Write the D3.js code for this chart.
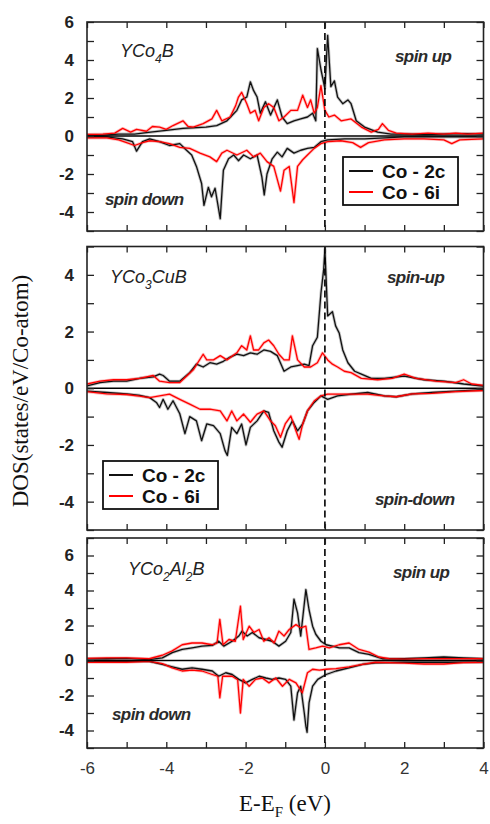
<!DOCTYPE html>
<html><head><meta charset="utf-8">
<script src="https://cdn.jsdelivr.net/npm/d3@7"></script>
<style>body{margin:0;background:#fff} svg{display:block}</style>
</head><body><svg id="c" width="490" height="824"></svg>
<script>
// ---------- DATA (E - E_F in eV, DOS in states/eV/Co-atom) ----------
const xTickValues = [-6,-5,-4,-3,-2,-1,0,1,2,3,4];
const xTickLabels = [-6,-4,-2,0,2,4];
const seriesNames = ["Co - 2c", "Co - 6i"];

// Panel 1: YCo4B
const p1_2c_up = [[-6,0.05],[-5.6,0.05],[-5.2,0.1],[-4.8,0.1],[-4.4,0.2],[-4,0.3],[-3.58,0.4],[-3,0.47],[-2.73,0.55],[-2.47,0.8],[-2.22,1.35],[-2.1,1.9],[-1.97,2.05],[-1.88,2.85],[-1.8,2.4],[-1.71,2.05],[-1.63,1.2],[-1.5,1.8],[-1.37,1.1],[-1.2,1.9],[-1.08,1.0],[-0.95,0.65],[-0.78,0.8],[-0.61,0.9],[-0.44,1.0],[-0.31,1.2],[-0.23,0.8],[-0.19,4.6],[-0.1,3.5],[0.0,2.5],[0.07,5.3],[0.15,2.6],[0.24,2.9],[0.32,2.05],[0.45,1.7],[0.58,1.9],[0.66,1.7],[0.79,0.8],[1.0,0.47],[1.33,0.2],[1.67,0.1],[2.0,0.1],[2.5,0.08],[3.0,0.1],[3.5,0.12],[4,0.1]];
const p1_6i_up = [[-6,0.08],[-5.6,0.1],[-5.3,0.15],[-5.1,0.4],[-4.9,0.2],[-4.75,0.35],[-4.5,0.25],[-4.35,0.5],[-4.17,0.47],[-4.0,0.35],[-3.83,0.55],[-3.58,0.8],[-3.45,0.5],[-3.32,0.47],[-3.07,0.65],[-2.85,0.9],[-2.73,1.35],[-2.6,0.8],[-2.39,1.0],[-2.25,1.6],[-2.18,2.05],[-2.1,2.3],[-1.97,1.7],[-1.88,1.2],[-1.76,1.35],[-1.67,0.8],[-1.54,1.5],[-1.42,1.7],[-1.29,1.5],[-1.16,0.8],[-1.03,1.0],[-0.86,1.35],[-0.69,1.35],[-0.56,2.15],[-0.44,1.5],[-0.36,1.9],[-0.27,1.2],[-0.19,1.5],[-0.1,2.65],[0,1.35],[0.1,1.0],[0.24,1.1],[0.41,0.8],[0.66,0.9],[0.92,0.47],[1.17,0.2],[1.35,0.35],[1.45,0.65],[1.6,0.3],[1.8,0.15],[2.2,0.1],[2.6,0.15],[3.0,0.1],[3.3,0.15],[3.6,0.1],[4,0.15]];
const p1_2c_dn = [[-6,-0.05],[-5.5,-0.05],[-5.1,-0.15],[-4.85,-0.3],[-4.75,-0.8],[-4.6,-0.3],[-4.42,-0.15],[-4.17,-0.3],[-3.92,-0.5],[-3.66,-0.4],[-3.49,-0.75],[-3.36,-1.0],[-3.24,-1.6],[-3.11,-2.5],[-3.05,-3.65],[-2.94,-2.7],[-2.86,-3.2],[-2.77,-2.75],[-2.64,-4.35],[-2.56,-1.8],[-2.43,-1.2],[-2.3,-1.0],[-2.18,-1.3],[-2.05,-1.0],[-1.88,-1.2],[-1.71,-1.0],[-1.59,-2.15],[-1.53,-3.1],[-1.46,-2.0],[-1.33,-1.2],[-1.2,-0.85],[-1.08,-1.1],[-0.95,-0.65],[-0.78,-0.9],[-0.61,-0.75],[-0.44,-0.65],[-0.27,-0.6],[-0.1,-0.3],[0.07,-0.2],[0.5,-0.15],[1.0,-0.15],[1.5,-0.1],[2.0,-0.05],[3.0,-0.05],[4,-0.05]];
const p1_6i_dn = [[-6,-0.1],[-5.5,-0.1],[-5.2,-0.2],[-5.0,-0.35],[-4.8,-0.5],[-4.6,-0.35],[-4.42,-0.25],[-4.17,-0.3],[-3.92,-0.4],[-3.66,-0.6],[-3.41,-0.65],[-3.15,-0.9],[-2.9,-1.1],[-2.73,-1.35],[-2.6,-0.9],[-2.47,-0.75],[-2.22,-1.0],[-1.97,-0.75],[-1.8,-1.1],[-1.63,-0.9],[-1.46,-1.35],[-1.29,-1.6],[-1.12,-2.9],[-1.03,-1.8],[-0.9,-1.6],[-0.78,-3.5],[-0.69,-1.6],[-0.56,-1.25],[-0.44,-1.0],[-0.27,-0.65],[-0.1,-0.4],[0.07,-0.3],[0.4,-0.25],[0.7,-0.35],[0.9,-0.6],[1.1,-0.35],[1.5,-0.2],[2.0,-0.15],[2.5,-0.15],[3.0,-0.2],[3.2,-0.4],[3.4,-0.2],[4,-0.15]];

// Panel 2: YCo3CuB
const p2_2c_up = [[-6,0.08],[-5.67,0.2],[-5.33,0.25],[-5,0.25],[-4.67,0.35],[-4.33,0.4],[-4.17,0.5],[-4.08,0.45],[-3.92,0.25],[-3.66,0.25],[-3.41,0.55],[-3.24,0.85],[-3.07,0.75],[-2.9,0.9],[-2.73,0.85],[-2.56,0.95],[-2.39,1.1],[-2.22,1.2],[-2.05,1.15],[-1.88,1.25],[-1.71,1.2],[-1.54,1.35],[-1.37,1.3],[-1.2,1.15],[-1.03,0.6],[-0.86,0.75],[-0.69,0.8],[-0.52,0.85],[-0.4,0.8],[-0.31,1.5],[-0.19,1.8],[-0.1,3.35],[-0.03,4.2],[0,4.9],[0.07,2.55],[0.19,2.7],[0.27,2.2],[0.36,1.95],[0.45,1.35],[0.58,0.9],[0.75,0.6],[0.92,0.5],[1.17,0.35],[1.5,0.35],[2,0.43],[2.5,0.3],[3,0.25],[3.5,0.15],[4,0.08]];
const p2_6i_up = [[-6,0.15],[-5.67,0.25],[-5.33,0.3],[-5,0.3],[-4.67,0.35],[-4.33,0.45],[-4.17,0.25],[-3.92,0.2],[-3.66,0.2],[-3.32,0.65],[-3.07,1.2],[-2.98,1.0],[-2.81,1.0],[-2.64,1.15],[-2.47,1.0],[-2.22,1.25],[-2.1,1.5],[-1.97,1.35],[-1.88,1.85],[-1.8,1.35],[-1.67,1.35],[-1.54,1.6],[-1.42,1.7],[-1.29,1.5],[-1.16,1.2],[-1.03,1.0],[-0.9,1.0],[-0.82,1.85],[-0.69,1.0],[-0.52,0.75],[-0.36,0.75],[-0.19,0.9],[-0.06,1.25],[0.07,1.0],[0.19,0.85],[0.32,0.75],[0.49,0.6],[0.66,0.55],[0.92,0.35],[1.33,0.3],[1.7,0.35],[2,0.5],[2.3,0.35],[2.8,0.25],[3.3,0.2],[3.5,0.3],[3.7,0.15],[4,0.1]];
const p2_2c_dn = [[-6,-0.1],[-5.5,-0.15],[-5,-0.2],[-4.67,-0.25],[-4.42,-0.33],[-4.25,-0.5],[-4.17,-0.68],[-4.08,-0.39],[-3.96,-0.74],[-3.83,-0.44],[-3.66,-0.9],[-3.53,-1.6],[-3.41,-1.0],[-3.24,-1.15],[-3.11,-1.85],[-2.98,-1.26],[-2.81,-1.32],[-2.64,-1.6],[-2.52,-2.2],[-2.46,-2.37],[-2.35,-1.38],[-2.22,-1.6],[-2.1,-1.26],[-1.99,-2.0],[-1.88,-1.38],[-1.71,-1.15],[-1.54,-0.8],[-1.42,-0.85],[-1.29,-1.5],[-1.16,-1.9],[-1.08,-2.08],[-0.95,-1.5],[-0.82,-1.15],[-0.69,-1.5],[-0.56,-1.26],[-0.44,-0.8],[-0.27,-0.5],[-0.1,-0.27],[0.07,-0.39],[0.32,-0.27],[0.66,-0.21],[1.08,-0.15],[1.5,-0.27],[1.8,-0.3],[2.2,-0.2],[2.7,-0.15],[3.3,-0.1],[4,-0.05]];
const p2_6i_dn = [[-6,-0.12],[-5.5,-0.2],[-5,-0.22],[-4.67,-0.28],[-4.42,-0.33],[-4.17,-0.27],[-3.92,-0.21],[-3.66,-0.39],[-3.41,-0.56],[-3.15,-0.74],[-2.9,-0.74],[-2.64,-0.8],[-2.47,-1.15],[-2.35,-0.8],[-2.22,-1.15],[-2.05,-0.91],[-1.88,-1.2],[-1.71,-0.91],[-1.54,-0.8],[-1.37,-1.15],[-1.25,-1.32],[-1.12,-1.73],[-1.0,-1.26],[-0.86,-0.98],[-0.73,-1.5],[-0.65,-1.8],[-0.56,-1.26],[-0.44,-0.8],[-0.27,-0.45],[-0.1,-0.27],[0.07,-0.21],[0.49,-0.21],[1.08,-0.21],[1.5,-0.27],[1.8,-0.3],[2.2,-0.2],[2.7,-0.18],[3.3,-0.12],[4,-0.08]];

// Panel 3: YCo2Al2B
const p3_2c_up = [[-6,0.1],[-5.5,0.1],[-5,0.12],[-4.43,0.05],[-4.1,0.15],[-3.85,0.45],[-3.6,0.63],[-3.35,0.72],[-3.1,0.82],[-2.84,0.86],[-2.68,1.1],[-2.55,0.82],[-2.34,1.1],[-2.17,1.4],[-2.09,1.68],[-1.96,1.4],[-1.83,1.6],[-1.66,1.3],[-1.49,1.2],[-1.33,1.1],[-1.16,0.82],[-0.99,1.1],[-0.86,1.6],[-0.78,3.5],[-0.69,2.72],[-0.61,1.4],[-0.48,4.05],[-0.4,2.9],[-0.31,1.96],[-0.23,1.5],[-0.1,1.1],[0.03,0.9],[0.19,0.82],[0.36,0.72],[0.61,0.72],[0.86,0.45],[1.11,0.35],[1.45,0.1],[2,0.1],[2.5,0.15],[3,0.2],[3.5,0.15],[4,0.1]];
const p3_6i_up = [[-6,0.12],[-5.5,0.15],[-5,0.15],[-4.43,0.1],[-4.1,0.3],[-3.85,0.55],[-3.6,0.9],[-3.35,1.0],[-3.1,1.0],[-2.84,0.9],[-2.72,1.0],[-2.65,2.35],[-2.57,0.9],[-2.42,1.2],[-2.26,1.1],[-2.13,3.1],[-2.06,1.2],[-1.91,1.96],[-1.79,1.6],[-1.66,1.77],[-1.54,1.1],[-1.41,1.3],[-1.28,1.0],[-1.16,1.68],[-1.03,1.4],[-0.9,1.77],[-0.73,2.05],[-0.61,1.87],[-0.48,1.96],[-0.4,0.63],[-0.23,0.72],[-0.06,0.82],[0.11,0.72],[0.36,0.9],[0.61,1.0],[0.86,0.63],[1.11,0.48],[1.36,0.2],[1.62,0.1],[2,0.08],[2.5,0.1],[3,0.1],[3.5,0.1],[4,0.1]];
const p3_2c_dn = [[-6,-0.05],[-5,-0.05],[-4.43,-0.05],[-4.1,-0.22],[-3.85,-0.36],[-3.6,-0.5],[-3.35,-0.42],[-3.1,-0.5],[-2.84,-0.6],[-2.68,-0.9],[-2.5,-0.7],[-2.34,-0.8],[-2.17,-1.08],[-2.0,-1.28],[-1.83,-1.08],[-1.66,-0.9],[-1.49,-1.0],[-1.33,-1.08],[-1.16,-1.0],[-0.99,-1.08],[-0.86,-1.47],[-0.78,-3.4],[-0.69,-1.85],[-0.61,-1.47],[-0.52,-3.0],[-0.48,-3.75],[-0.45,-4.1],[-0.4,-2.42],[-0.31,-1.47],[-0.18,-1.08],[0.03,-0.8],[0.28,-0.6],[0.61,-0.42],[0.95,-0.22],[1.28,-0.13],[2,-0.1],[3,-0.1],[4,-0.1]];
const p3_6i_dn = [[-6,-0.1],[-5,-0.1],[-4.43,-0.05],[-4.1,-0.18],[-3.85,-0.42],[-3.6,-0.6],[-3.35,-0.55],[-3.1,-0.6],[-2.84,-0.8],[-2.7,-0.9],[-2.65,-2.13],[-2.58,-0.9],[-2.34,-0.9],[-2.2,-1.1],[-2.13,-3.0],[-2.06,-1.08],[-1.91,-1.47],[-1.75,-1.08],[-1.58,-1.0],[-1.41,-1.28],[-1.24,-1.0],[-1.07,-1.47],[-0.9,-1.08],[-0.73,-1.28],[-0.57,-1.85],[-0.44,-0.7],[-0.31,-0.5],[-0.14,-0.55],[0.03,-0.5],[0.28,-0.47],[0.61,-0.36],[0.95,-0.22],[1.28,-0.1],[2,-0.15],[2.5,-0.2],[3,-0.2],[3.5,-0.12],[4,-0.1]];

// ---------- LAYOUT ----------
const svg = d3.select('#c');
const x = d3.scaleLinear().domain([-6,4]).range([87,483.5]);
const colors = {"2c":"#111111","6i":"#ff0000"};

const panels = [
  {top:22, bottom:231, domain:[-5,6],
   data:[[p1_2c_up,"2c"],[p1_2c_dn,"2c"],[p1_6i_up,"6i"],[p1_6i_dn,"6i"]],
   title:[["YCo",0],["4",1],["B",0]], titlePos:[120,57],
   up:["spin up",395,62], down:["spin down",105,205],
   legend:[343,157]},
  {top:246.5, bottom:530, domain:[-5,5],
   data:[[p2_2c_up,"2c"],[p2_2c_dn,"2c"],[p2_6i_up,"6i"],[p2_6i_dn,"6i"]],
   title:[["YCo",0],["3",1],["CuB",0]], titlePos:[110,283],
   up:["spin-up",387,283], down:["spin-down",375,505],
   legend:[103,461]},
  {top:538, bottom:748, domain:[-5,7],
   data:[[p3_2c_up,"2c"],[p3_2c_dn,"2c"],[p3_6i_up,"6i"],[p3_6i_dn,"6i"]],
   title:[["YCo",0],["2",1],["Al",0],["2",1],["B",0]], titlePos:[128,575],
   up:["spin up",393,578], down:["spin down",112,720],
   legend:null, xLabels:true}
];

panels.forEach((p, pi) => {
  const y = d3.scaleLinear().domain(p.domain).range([p.bottom, p.top]);
  const g = svg.append('g');
  const id = 'clip'+pi;
  svg.append('clipPath').attr('id', id).append('rect')
    .attr('x', x.range()[0]).attr('y', p.top)
    .attr('width', x.range()[1]-x.range()[0]).attr('height', p.bottom-p.top);

  const line = d3.line().x(d=>x(d[0])).y(d=>y(d[1]));
  const lg = g.append('g').attr('clip-path', `url(#${id})`);
  // black first, then red
  p.data.forEach(([arr, key]) => {
    lg.append('path').attr('d', line(arr)).attr('fill','none')
      .attr('stroke', colors[key]).attr('stroke-opacity', 0.25)
      .attr('stroke-width', 3).attr('stroke-linejoin','round');
  });
  p.data.forEach(([arr, key]) => {
    lg.append('path').attr('d', line(arr)).attr('fill','none')
      .attr('stroke', colors[key]).attr('stroke-width', 1.3)
      .attr('stroke-linejoin','round');
  });
  // zero line
  g.append('line').attr('x1', x.range()[0]).attr('x2', x.range()[1])
    .attr('y1', y(0)).attr('y2', y(0)).attr('stroke','#000').attr('stroke-width',1.6);
  // Fermi level
  g.append('line').attr('x1', x(0)).attr('x2', x(0))
    .attr('y1', p.top).attr('y2', p.bottom).attr('stroke','#000')
    .attr('stroke-width',1.6).attr('stroke-dasharray','7,4');

  // axes (inward ticks)
  const yt = d3.range(Math.ceil(p.domain[0]), Math.floor(p.domain[1])+1);
  const yLab = yt.filter(v => v % 2 === 0);
  const axL = d3.axisLeft(y).tickValues(yt).tickSize(-7).tickPadding(13)
     .tickFormat(v => yLab.includes(v) ? v : '');
  const axR = d3.axisRight(y).tickValues(yt).tickSize(-7).tickFormat('');
  const axB = d3.axisBottom(x).tickValues(xTickValues).tickSize(-6).tickPadding(14)
     .tickFormat(v => (p.xLabels && xTickLabels.includes(v)) ? v : '');
  const axT = d3.axisTop(x).tickValues(xTickValues).tickSize(-6).tickFormat('');
  const gl = g.append('g').attr('transform',`translate(${x.range()[0]},0)`).call(axL);
  g.append('g').attr('transform',`translate(${x.range()[1]},0)`).call(axR);
  const gb = g.append('g').attr('transform',`translate(0,${p.bottom})`).call(axB);
  g.append('g').attr('transform',`translate(0,${p.top})`).call(axT);
  g.selectAll('.domain').remove();
  g.selectAll('.tick line').attr('stroke','#222').attr('stroke-width',1.3);
  gl.selectAll('text').attr('font-family','Liberation Sans, Arial, sans-serif')
    .attr('font-weight','bold').attr('font-size',17).attr('fill','#222');
  gb.selectAll('text').attr('font-family','Liberation Sans, Arial, sans-serif')
    .attr('font-size',17).attr('fill','#333');

  // frame
  g.append('rect').attr('x', x.range()[0]).attr('y', p.top)
    .attr('width', x.range()[1]-x.range()[0]).attr('height', p.bottom-p.top)
    .attr('fill','none').attr('stroke','#222').attr('stroke-width',1.6);

  // compound label
  const t = g.append('text').attr('x', p.titlePos[0]).attr('y', p.titlePos[1])
    .attr('font-family','Liberation Sans, Arial, sans-serif').attr('font-style','italic')
    .attr('font-size',18).attr('fill','#222');
  p.title.forEach(([s, sub]) => {
    const ts = t.append('tspan').text(s);
    if (sub) ts.attr('font-size',12).attr('dy',6);
    else if (t.selectAll('tspan').size() > 1) ts.attr('dy', 0);
  });
  // fix dy back after subscripts
  t.selectAll('tspan').each(function(d, i, nodes) {
    const sub = p.title[i][1];
    const prevSub = i > 0 ? p.title[i-1][1] : 0;
    if (!sub && prevSub) d3.select(this).attr('dy', -6);
  });

  // spin labels
  [p.up, p.down].forEach(([s, lx, ly]) => {
    g.append('text').attr('x', lx).attr('y', ly).text(s)
      .attr('font-family','Liberation Sans, Arial, sans-serif').attr('font-style','italic')
      .attr('font-weight','bold').attr('font-size',17).attr('letter-spacing',-0.6)
      .attr('fill','#2b2b2b');
  });

  // legend
  if (p.legend) {
    const [lx, ly] = p.legend;
    const lgd = g.append('g');
    lgd.append('rect').attr('x', lx).attr('y', ly).attr('width',115).attr('height',48)
      .attr('fill','#fff').attr('stroke','#111').attr('stroke-width',1.8);
    ["2c","6i"].forEach((k, i) => {
      const yy = ly + 14 + i*21;
      lgd.append('line').attr('x1', lx+6).attr('x2', lx+30).attr('y1', yy).attr('y2', yy)
        .attr('stroke', colors[k]).attr('stroke-width', 2);
      lgd.append('text').attr('x', lx+39).attr('y', yy+6.5).text(seriesNames[i])
        .attr('font-family','Liberation Sans, Arial, sans-serif').attr('font-weight','bold')
        .attr('font-size',19).attr('fill','#111');
    });
  }
});

// axis titles
svg.append('text').attr('transform','translate(28,391) rotate(-90)')
  .attr('text-anchor','middle').attr('font-family','Liberation Serif, Times New Roman, serif')
  .attr('font-size',23).attr('fill','#111').text('DOS(states/eV/Co-atom)');
const xt = svg.append('text').attr('x',285).attr('y',811).attr('text-anchor','middle')
  .attr('font-family','Liberation Serif, Times New Roman, serif').attr('font-size',23).attr('fill','#111');
xt.append('tspan').text('E-E');
xt.append('tspan').text('F').attr('font-size',15).attr('dy',6);
xt.append('tspan').text(' (eV)').attr('dy',-6);
</script></body></html>
